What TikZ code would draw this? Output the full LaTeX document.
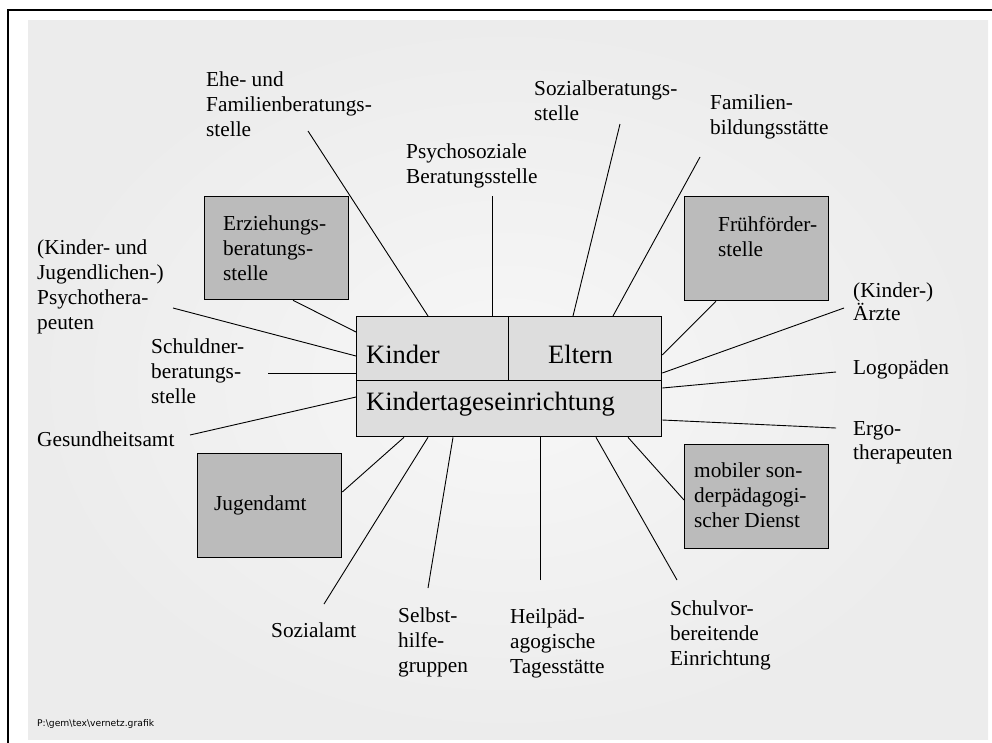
\documentclass[tikz,border=0pt]{standalone}
\usepackage{fontspec}
\setmainfont{Liberation Serif}
\newfontfamily\footfont{DejaVu Sans}
\newcommand\mlines[1]{\vtop{\halign{##\hfil\cr#1\crcr}}}
\definecolor{panelout}{HTML}{ECECEC}
\definecolor{panelin}{HTML}{F7F7F7}
\definecolor{centerfill}{HTML}{DDDDDD}
\definecolor{boxgray}{HTML}{BBBBBB}
\begin{document}
\begin{tikzpicture}[x=1pt,y=-1pt,
  lbl/.style={anchor=base west,inner sep=0pt,font=\fontsize{21.3}{25.3}\selectfont},
  big/.style={anchor=base west,inner sep=0pt,font=\fontsize{26.5}{30}\selectfont},
  boxshape/.style={draw=black,line width=1.3pt,rectangle,inner sep=0pt,anchor=north west},
  graybox/.style={boxshape,fill=boxgray},
  centerbox/.style={boxshape,fill=centerfill},
  conn/.style={draw=black,line width=0.9pt}
  ]
\useasboundingbox (0,0) rectangle (992,742);
% background panel
\shade[inner color=panelin,outer color=panelout] (28,20) rectangle (988,739);
% frame
\draw[line width=2.5pt,line cap=rect] (8,742) -- (8,10) -- (992,10);

% central boxes
\node[centerbox,minimum width=152,minimum height=64] (kinder) at (356,316) {};
\node[centerbox,minimum width=153,minimum height=64] (eltern) at (508,316) {};
\node[centerbox,minimum width=305,minimum height=56] (kita) at (356,380) {};
\node[big] (tkinder) at (366,363) {Kinder};
\node[big] (teltern) at (548,363) {Eltern};
\node[big] (tkita) at (366,410) {Kindertageseinrichtung};

% gray boxes
\node[graybox,minimum width=144,minimum height=103] (erz) at (204,196) {};
\node[lbl] (terz) at (223,230) {\mlines{Erziehungs-\cr beratungs-\cr stelle}};
\node[graybox,minimum width=144,minimum height=104] (fruh) at (684,196) {};
\node[lbl] (tfruh) at (718,231) {\mlines{Frühförder-\cr stelle}};
\node[graybox,minimum width=144,minimum height=104] (jug) at (197,453) {};
\node[lbl] (tjug) at (214,510) {Jugendamt};
\node[graybox,minimum width=144,minimum height=104] (mob) at (684,444) {};
\node[lbl] (tmob) at (694,477) {\mlines{mobiler son-\cr derpädagogi-\cr scher Dienst}};

% labels
\node[lbl] (ehe) at (206,86) {\mlines{Ehe- und\cr Familienberatungs-\cr stelle}};
\node[lbl] (psy) at (406,158) {\mlines{Psychosoziale\cr Beratungsstelle}};
\node[lbl] (soz) at (534,95) {\mlines{Sozialberatungs-\cr stelle}};
\node[lbl] (fam) at (710,109) {\mlines{Familien-\cr bildungsstätte}};
\node[lbl] (kjp) at (37,254) {\mlines{(Kinder- und\cr Jugendlichen-)\cr Psychothera-\cr peuten}};
\node[lbl] (schu) at (151,353) {\mlines{Schuldner-\cr beratungs-\cr stelle}};
\node[lbl] (ges) at (37,446) {Gesundheitsamt};
\node[lbl,font=\fontsize{21.3}{23.5}\selectfont] (arz) at (853,297) {\mlines{(Kinder-)\cr Ärzte}};
\node[lbl] (logo) at (853,374) {Logopäden};
\node[lbl,font=\fontsize{21.3}{24.2}\selectfont] (ergo) at (853,435) {\mlines{Ergo-\cr therapeuten}};
\node[lbl] (sozamt) at (271,637) {Sozialamt};
\node[lbl] (selb) at (398,622) {\mlines{Selbst-\cr hilfe-\cr gruppen}};
\node[lbl] (heil) at (510,623) {\mlines{Heilpäd-\cr agogische\cr Tagesstätte}};
\node[lbl] (schv) at (670,615) {\mlines{Schulvor-\cr bereitende\cr Einrichtung}};
\node[anchor=base west,inner sep=0pt,font=\footfont\fontsize{9.2}{11}\selectfont] (foot) at (37,726) {P:\textbackslash gem\textbackslash tex\textbackslash vernetz.grafik};

% connector end points
\coordinate (pEhe) at (308,131);
\coordinate (pPsy) at (492,196);
\coordinate (pSoz) at (620,124);
\coordinate (pFam) at (700,157);
\coordinate (pKjp) at (173,308);
\coordinate (pSchu) at (268,373);
\coordinate (pGes) at (190,435);
\coordinate (pArz) at (844,308);
\coordinate (pLogo) at (836,372);
\coordinate (pErgo) at (836,428);
\coordinate (pSozamt) at (324,604);
\coordinate (pSelb) at (428,588);
\coordinate (pHeil) at (540,580);
\coordinate (pSchv) at (677,580);

% connectors
\draw[conn] (pEhe) -- (kinder.north west -| 428,0);
\draw[conn] (pPsy) -- (kinder.north west -| 492,0);
\draw[conn] (pSoz) -- (eltern.north west -| 573,0);
\draw[conn] (pFam) -- (eltern.north west -| 613,0);
\draw[conn] (erz.south west -| 293,0) -- (kinder.north west |- 0,332);
\draw[conn] (pKjp) -- (kinder.north west |- 0,356);
\draw[conn] (pSchu) -- (kinder.north west |- 0,373);
\draw[conn] (pGes) -- (kita.north west |- 0,397);
\draw[conn] (fruh.south west -| 716,0) -- (eltern.north east |- 0,355);
\draw[conn] (pArz) -- (eltern.north east |- 0,373);
\draw[conn] (pLogo) -- (kita.north east |- 0,388);
\draw[conn] (pErgo) -- (kita.north east |- 0,420);
\draw[conn] (jug.north east |- 0,492) -- (kita.south west -| 404,0);
\draw[conn] (pSozamt) -- (kita.south west -| 428,0);
\draw[conn] (pSelb) -- (kita.south west -| 453,0);
\draw[conn] (pHeil) -- (kita.south west -| 540,0);
\draw[conn] (pSchv) -- (kita.south west -| 596,0);
\draw[conn] (mob.north west |- 0,500) -- (kita.south west -| 628,0);
\end{tikzpicture}
\end{document}
